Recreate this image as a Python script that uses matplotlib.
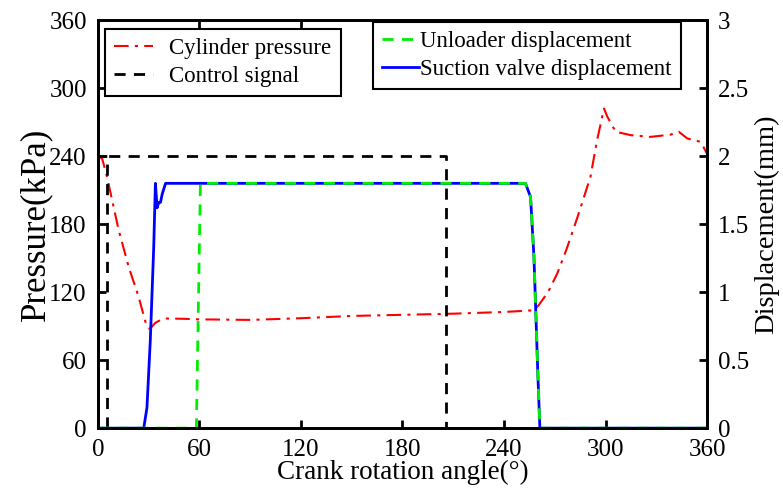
import matplotlib
matplotlib.use("Agg")
import matplotlib.pyplot as plt

plt.rcParams['font.family'] = ['Liberation Serif', 'DejaVu Serif']
plt.rcParams['mathtext.fontset'] = 'stix'

# cylinder pressure (kPa) vs crank angle (deg)
p_angle = [0, 2.5, 5.4, 12.3, 18.2, 24.1, 28.1, 30.0, 31.0, 34, 38.9, 50, 60, 90, 120, 150,
           180, 210, 240, 257.6, 260.5, 266, 271.5, 277, 283.4, 291.1, 295, 299.1,
           301.1, 306, 315, 326.7, 338.5, 343.3, 348.3, 356.2, 359, 360]
p_kpa = [240, 238, 221.7, 174.7, 142.3, 115.8, 93.8, 88, 88, 93, 96.8, 96.5, 96, 95.5, 97, 99,
         100, 101, 102.5, 104, 108.5, 120, 136.5, 158, 186, 221.7, 254, 282,
         274.7, 261.5, 258.5, 257, 259, 261.5, 255.6, 252.6, 245, 242]

# control signal (shown on the 2 mm level)
ctrl_angle = [5.6, 5.6, 0, 206, 206, 360]
ctrl_mm = [0, 2, 2, 2, 0, 0]

# unloader displacement (mm)
unl_angle = [0, 58.2, 60.6, 252.7, 255.7, 257.7, 258.7, 260, 261.2, 360]
unl_mm = [0, 0, 1.8, 1.8, 1.70, 1.26, 0.89, 0.40, 0.0, 0.0]

# suction valve displacement (mm)
suc_angle = [0, 27.1, 29, 31, 33, 34, 35, 36, 37, 38, 40, 252.7, 255.7, 257.7, 258.7, 260, 261.2, 360]
suc_mm = [0, 0, 0.15, 0.65, 1.33, 1.8, 1.62, 1.66, 1.66, 1.72, 1.8, 1.8, 1.70, 1.26, 0.89, 0.40, 0.0, 0.0]

fig = plt.figure(figsize=(7.83, 4.91), dpi=100)
ax = fig.add_axes([0.125, 0.128, 0.778, 0.831])
ax2 = ax.twinx()

l_p, = ax.plot(p_angle, p_kpa, color='red', lw=1.5, dashes=(7, 3, 1.5, 3), label='Cylinder pressure')
l_c, = ax2.plot(ctrl_angle, ctrl_mm, color='black', lw=2, dashes=(4, 3), label='Control signal')
l_s, = ax2.plot(suc_angle, suc_mm, color='blue', lw=2, label='Suction valve displacement')
l_u, = ax2.plot(unl_angle, unl_mm, color='#00ee00', lw=2, dashes=(4, 3), label='Unloader displacement')

ax.set_xlim(0, 360)
ax.set_ylim(0, 360)
ax2.set_ylim(0, 3)
ax.set_xticks(range(0, 361, 60))
ax.set_yticks(range(0, 361, 60))
ax2.set_yticks([0, 0.5, 1, 1.5, 2, 2.5, 3])
ax2.set_yticklabels(['0', '0.5', '1', '1.5', '2', '2.5', '3'])

ax.set_xlabel('Crank rotation angle(°)', fontsize=19.5, labelpad=-1)
ax.set_ylabel('Pressure(kPa)', fontsize=25, labelpad=-2)
ax2.set_ylabel('Displacement(mm)', fontsize=20.5, labelpad=3)

ax.tick_params(axis='both', direction='in', labelsize=18, width=2, length=6, top=True, pad=8)
ax2.tick_params(axis='y', direction='in', labelsize=18, width=2, length=6, pad=8)
for a in (ax, ax2):
    for s in a.spines.values():
        s.set_linewidth(2)

leg1 = ax2.legend([l_p, l_c], ['Cylinder pressure', 'Control signal'],
                  loc='upper left', bbox_to_anchor=(0.012, 0.978), fontsize=16.5,
                  fancybox=False, framealpha=1, edgecolor='black', handlelength=1.7,
                  borderaxespad=0, borderpad=0.4, labelspacing=0.3, handletextpad=0.7)
leg1.get_frame().set_linewidth(1.5)
ax2.add_artist(leg1)
leg2 = ax2.legend([l_u, l_s], ['Unloader displacement', 'Suction valve displacement'],
                  loc='upper left', bbox_to_anchor=(0.452, 0.995), fontsize=16.5,
                  fancybox=False, framealpha=1, edgecolor='black', handlelength=1.6,
                  borderaxespad=0, borderpad=0.4, labelspacing=0.3, handletextpad=0.05)
leg2.get_frame().set_linewidth(1.5)

fig.savefig('out.png', dpi=100)
